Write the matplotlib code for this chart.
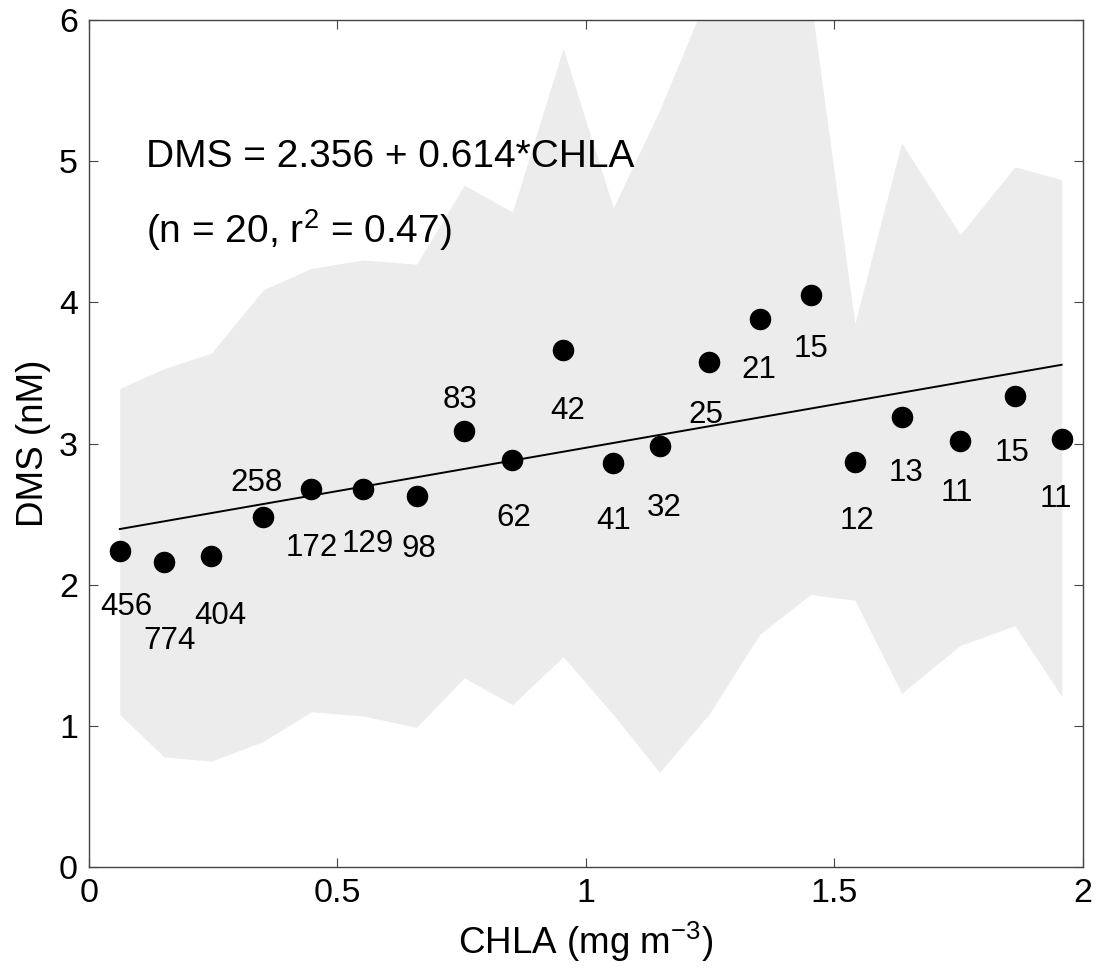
import matplotlib
matplotlib.use("Agg")
import matplotlib.pyplot as plt
import numpy as np

plt.rcParams["font.family"] = ["Liberation Sans", "DejaVu Sans"]
plt.rcParams["mathtext.default"] = "regular"

# bin centres of CHLA and mean DMS per bin
chla = [0.062, 0.151, 0.246, 0.351, 0.447, 0.551, 0.659, 0.755, 0.852, 0.954,
        1.055, 1.148, 1.247, 1.350, 1.452, 1.541, 1.635, 1.753, 1.863, 1.957]
dms = [2.24, 2.16, 2.20, 2.48, 2.68, 2.68, 2.63, 3.09, 2.88, 3.66,
       2.86, 2.98, 3.58, 3.88, 4.05, 2.87, 3.19, 3.02, 3.34, 3.03]
# spread envelope
upper = [3.39, 3.53, 3.64, 4.09, 4.24, 4.30, 4.27, 4.83, 4.64, 5.80,
         4.67, 5.36, 6.20, 6.60, 6.15, 3.85, 5.13, 4.48, 4.96, 4.87]
lower = [1.08, 0.78, 0.75, 0.89, 1.10, 1.07, 0.99, 1.34, 1.15, 1.49,
         1.08, 0.67, 1.08, 1.65, 1.93, 1.89, 1.23, 1.57, 1.71, 1.21]
# sample counts and where they are written
counts = ["456", "774", "404", "258", "172", "129", "98", "83", "62", "42",
          "41", "32", "25", "21", "15", "12", "13", "11", "15", "11"]
label_x = [0.075, 0.163, 0.265, 0.337, 0.448, 0.560, 0.663, 0.746, 0.855, 0.964,
           1.055, 1.157, 1.241, 1.347, 1.453, 1.545, 1.644, 1.746, 1.858, 1.946]
label_y = [1.84, 1.60, 1.78, 2.72, 2.26, 2.29, 2.25, 3.31, 2.47, 3.23,
           2.45, 2.54, 3.20, 3.52, 3.67, 2.45, 2.79, 2.65, 2.93, 2.61]

intercept, slope = 2.356, 0.614

fig = plt.figure(figsize=(11.07, 9.71), dpi=100)
ax = fig.add_axes([0.0804, 0.1071, 0.8979, 0.8723])

x = np.array(chla)
ax.fill_between(x, lower, upper, color="#ececec", linewidth=0, zorder=1)
ax.plot(x, intercept + slope * x, color="black", linewidth=1.4, zorder=2)
ax.plot(x, dms, "o", color="black", markersize=14.5, zorder=3)

for lx, ly, t in zip(label_x, label_y, counts):
    ax.text(lx, ly, t, fontsize=22.5, ha="center", va="center", zorder=4)

ax.text(0.114, 5.03, "DMS = 2.356 + 0.614*CHLA", fontsize=28, ha="left", va="center")
ax.text(0.114, 4.51, "(n = 20, r$^2$ = 0.47)", fontsize=28, ha="left", va="center")

ax.set_xlim(0, 2)
ax.set_ylim(0, 6)
ax.set_xticks([0, 0.5, 1, 1.5, 2])
ax.set_xticklabels(["0", "0.5", "1", "1.5", "2"])
ax.set_yticks(range(7))
ax.tick_params(direction="in", length=6.5, width=0.8, labelsize=24.5,
               top=True, right=True, color="#444444", pad=8)
for s in ax.spines.values():
    s.set_color("#444444")
    s.set_linewidth(1.0)

ax.set_xlabel("CHLA (mg m$^{-3}$)", fontsize=26.5, labelpad=8)
ax.set_ylabel("DMS (nM)", fontsize=26.5, labelpad=6)

fig.savefig("out.png", dpi=100)
